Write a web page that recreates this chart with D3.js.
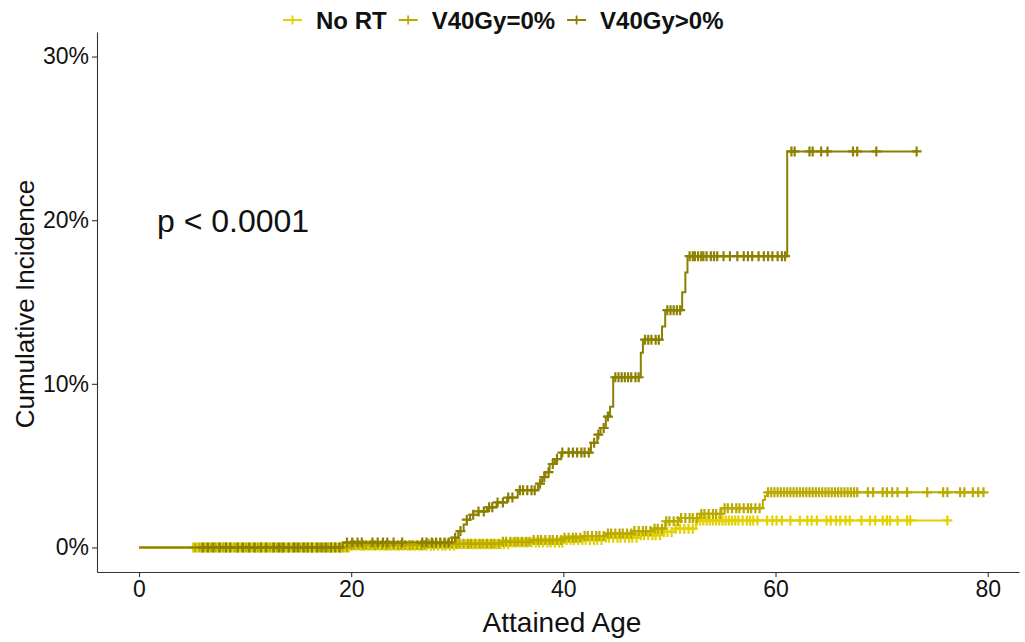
<!DOCTYPE html>
<html>
<head>
<meta charset="utf-8">
<script src="https://cdn.jsdelivr.net/npm/d3@7"></script>
<style>
  body { margin: 0; background: #fff; }
  text { font-family: "Liberation Sans", Arial, sans-serif; }
</style>
</head>
<body>
<script>
// Groups and colours
const groups = ["No RT", "V40Gy=0%", "V40Gy>0%"];
const groupColors = ["#E1D200", "#BBAA00", "#8C8000"];
const xTicks = [0, 20, 40, 60, 80];
const yTicks = [0, 0.1, 0.2, 0.3];
const pLabel = "p < 0.0001";

// Event steps: [attained age, cumulative incidence %]
const noRtSteps = [
  [0, 0], [20.0, 0.1], [30.0, 0.2], [35.0, 0.3], [40.0, 0.45], [44.0, 0.6],
  [47.0, 0.75], [49.3, 0.95], [50.5, 1.15], [52.5, 1.65]
];
const v40ZeroSteps = [
  [0, 0], [19.8, 0.15], [27.0, 0.22], [34.0, 0.35], [37.0, 0.45], [40.0, 0.6],
  [42.0, 0.7], [44.0, 0.85], [46.5, 1.0], [48.5, 1.15], [49.6, 1.6], [51.0, 1.8],
  [52.9, 2.05], [54.9, 2.4], [58.8, 2.9], [59.0, 3.15], [59.2, 3.37]
];
const v40PosSteps = [
  [0, 0], [19.2, 0.3], [29.5, 0.6], [30.1, 1.0], [30.6, 1.4], [30.9, 1.7],
  [31.2, 2.0], [32.0, 2.2], [32.8, 2.45], [33.7, 2.75], [34.7, 3.05], [35.7, 3.5],
  [37.6, 3.9], [38.0, 4.3], [38.3, 4.6], [38.7, 5.1], [39.2, 5.4], [39.8, 5.8],
  [42.6, 6.4], [43.2, 6.9], [43.5, 7.3], [44.0, 8.0], [44.4, 8.6], [44.7, 10.4],
  [47.3, 11.9], [47.5, 12.7], [49.3, 13.5], [49.6, 14.5], [51.2, 15.6],
  [51.5, 16.8], [51.7, 17.8], [61.1, 24.2]
];

// Last follow-up age of each curve
const endAges = [76.2, 79.7, 73.3];

// Censoring ages
const noRtCensor = [
  5.1, 5.5, 5.9, 6.2, 6.6, 7.0, 7.3, 7.7, 8.0, 8.4, 8.8, 9.1, 9.5, 9.9, 10.2,
  10.6, 11.0, 11.3, 11.7, 12.1, 12.4, 12.8, 13.2, 13.5, 13.9, 14.3, 14.6, 15.0,
  15.4, 15.7, 16.1, 16.5, 16.8, 17.2, 17.6, 17.9, 18.3, 18.7, 19.0, 19.4, 19.8,
  20.1, 20.5, 20.9, 21.2, 21.6, 22.0, 22.3, 22.7, 23.1, 23.4, 23.8, 24.2, 24.5,
  24.9, 25.3, 25.6, 26.0, 26.4, 26.7, 27.1, 27.5, 27.8, 28.2, 28.6, 28.9, 29.3,
  29.7, 30.0, 30.4, 30.8, 31.1, 31.5, 31.9, 32.2, 32.6, 33.0, 33.3, 33.7, 34.1,
  34.4, 34.8, 35.2, 35.5, 35.9, 36.3, 36.6, 37.0, 37.4, 37.7, 38.1, 38.5, 38.8,
  39.2, 39.6, 39.9, 40.3, 40.7, 41.0, 41.4, 41.8, 42.1, 42.5, 42.9, 43.2, 43.6,
  44.0, 44.3, 44.7, 45.1, 45.4, 45.8, 46.2, 46.5, 46.9, 47.3, 47.6, 48.0, 48.4,
  48.7, 49.1, 49.5, 49.8, 50.2, 50.6, 51.0, 51.4, 51.8, 52.2, 52.6, 52.9, 53.2,
  53.5, 53.8, 54.1, 54.4, 54.7, 55.0, 55.3, 55.6, 55.9, 56.2, 56.5, 56.9, 57.3,
  57.6, 57.9, 58.3, 59.2, 59.7, 60.1, 60.6, 61.4, 62.3, 63.0, 63.4, 63.9, 64.8,
  65.2, 65.7, 66.1, 66.6, 67.0, 68.1, 68.9, 69.4, 70.1, 70.5, 70.8, 71.5, 72.4,
  72.7, 76.2
];
const v40ZeroCensor = [
  5.3, 5.7, 6.1, 6.4, 6.8, 7.2, 7.5, 7.9, 8.2, 8.6, 9.0, 9.3, 9.7, 10.1, 10.4,
  10.8, 11.2, 11.5, 11.9, 12.3, 12.6, 13.0, 13.4, 13.7, 14.1, 14.5, 14.8, 15.2,
  15.6, 15.9, 16.3, 16.7, 17.0, 17.4, 17.8, 18.1, 18.5, 18.9, 19.2, 19.6, 20.0,
  20.3, 20.7, 21.1, 21.4, 21.8, 22.2, 22.5, 22.9, 23.3, 23.6, 24.0, 24.4, 24.7,
  25.1, 25.5, 25.8, 26.2, 26.6, 26.9, 27.3, 27.7, 28.0, 28.4, 28.8, 29.1, 29.5,
  29.9, 30.2, 30.6, 31.0, 31.3, 31.7, 32.1, 32.4, 32.8, 33.2, 33.5, 33.9, 34.3,
  34.6, 35.0, 35.4, 35.7, 36.1, 36.5, 36.8, 37.2, 37.6, 37.9, 38.3, 38.7, 39.0,
  39.4, 39.8, 40.1, 40.5, 40.9, 41.2, 41.6, 42.0, 42.3, 42.7, 43.1, 43.4, 43.8,
  44.2, 44.5, 44.9, 45.3, 45.6, 46.0, 46.4, 46.7, 47.1, 47.5, 47.8, 48.2, 48.6,
  48.9, 49.3, 49.7, 50.0, 50.4, 50.8, 51.1, 51.5, 51.9, 52.2, 52.6, 53.0, 53.3,
  53.7, 54.1, 54.4, 54.8, 55.2, 55.5, 55.9, 56.3, 56.6, 57.0, 57.4, 57.7, 58.1,
  58.5, 59.3, 59.6, 59.9, 60.2, 60.5, 60.8, 61.1, 61.4, 61.7, 62.0, 62.3, 62.6,
  62.9, 63.2, 63.5, 63.8, 64.1, 64.4, 64.7, 65.0, 65.3, 65.6, 65.9, 66.2, 66.5,
  66.8, 67.1, 67.4, 67.7, 68.7, 69.2, 70.1, 70.5, 71.0, 71.5, 72.4, 74.3, 75.8,
  76.2, 77.4, 77.8, 78.6, 79.1, 79.6
];
const v40PosCensor = [
  6.0, 6.5, 7.0, 7.6, 8.2, 8.6, 9.3, 9.8, 10.4, 10.9, 11.5, 12.0, 12.7, 13.2,
  13.6, 14.1, 14.6, 15.0, 15.5, 15.9, 16.3, 16.8, 17.2, 17.6, 18.1, 18.5, 18.9,
  19.6, 20.1, 20.6, 21.0, 22.0, 22.5, 23.0, 23.4, 24.0, 24.8, 26.7, 27.1, 27.6,
  28.0, 28.4, 28.8, 29.2, 29.8, 30.3, 30.9, 31.5, 32.0, 32.5, 33.0, 33.3, 33.8,
  34.3, 34.8, 35.2, 35.9, 36.2, 36.6, 37.0, 37.3, 37.8, 38.2, 38.6, 39.0, 39.4,
  39.9, 40.5, 40.9, 41.3, 41.7, 42.0, 42.4, 42.9, 43.3, 43.8, 44.2, 44.9, 45.2,
  45.5, 45.8, 46.1, 46.4, 46.8, 47.1, 47.7, 48.0, 48.3, 48.7, 49.0, 49.8, 50.1,
  50.4, 50.7, 51.0, 51.9, 52.2, 52.4, 52.7, 53.0, 53.2, 53.5, 53.9, 54.2, 54.5,
  55.1, 55.7, 56.4, 57.0, 57.4, 57.8, 58.4, 58.9, 59.3, 59.7, 60.2, 60.6, 60.9,
  61.5, 61.8, 63.2, 63.5, 64.3, 64.9, 67.3, 67.7, 69.5, 73.3
];

const stepsList = [noRtSteps, v40ZeroSteps, v40PosSteps];
const censorList = [noRtCensor, v40ZeroCensor, v40PosCensor];

const width = 1025;
const height = 642;

// Scales (ggplot style 5% expansion)
const xScale = d3.scaleLinear().domain([-3.96, 82.95]).range([97, 1019]);
const yScale = d3.scaleLinear().domain([-0.015, 0.315]).range([572, 32]);

const svg = d3
  .select("body")
  .append("svg")
  .attr("width", width)
  .attr("height", height)
  .style("background", "#fff");

// Step value at a given age
function stepValue(steps, t) {
  let v = 0;
  for (const s of steps) {
    if (s[0] <= t) v = s[1];
  }
  return v / 100;
}

const line = d3
  .line()
  .x((d) => xScale(d[0]))
  .y((d) => yScale(d[1] / 100))
  .curve(d3.curveStepAfter);

// Curves, drawn in group order
groups.forEach((g, i) => {
  const steps = stepsList[i];
  const pts = steps.concat([[endAges[i], steps[steps.length - 1][1]]]);
  const gg = svg.append("g");

  gg.append("path")
    .attr("d", line(pts))
    .attr("fill", "none")
    .attr("stroke", groupColors[i])
    .attr("stroke-width", 2);

  // Censor marks
  gg.selectAll("path.cens")
    .data(censorList[i])
    .join("path")
    .attr("class", "cens")
    .attr("d", (t) => {
      const x = xScale(t);
      const y = yScale(stepValue(steps, t));
      return `M${x - 5},${y}H${x + 5}M${x},${y - 5}V${y + 5}`;
    })
    .attr("fill", "none")
    .attr("stroke", groupColors[i])
    .attr("stroke-width", 2.2);
});

// x-axis
const xAxis = d3
  .axisBottom(xScale)
  .tickValues(xTicks)
  .tickSize(5)
  .tickSizeOuter(0)
  .tickPadding(4);
const gx = svg.append("g").attr("transform", `translate(0, 572)`).call(xAxis);
gx.select(".domain").attr("stroke", "#333").attr("stroke-width", 1.1);
gx.selectAll(".tick line").attr("stroke", "#333").attr("stroke-width", 1.1);
gx.selectAll(".tick text")
  .attr("font-size", "23px")
  .attr("font-family", "Liberation Sans, Arial, sans-serif")
  .attr("fill", "#111");

// y-axis
const yAxis = d3
  .axisLeft(yScale)
  .tickValues(yTicks)
  .tickSize(5)
  .tickSizeOuter(0)
  .tickPadding(3)
  .tickFormat(d3.format(".0%"));
const gy = svg.append("g").attr("transform", `translate(97, 0)`).call(yAxis);
gy.select(".domain").attr("stroke", "#333").attr("stroke-width", 1.1);
gy.selectAll(".tick line").attr("stroke", "#333").attr("stroke-width", 1.1);
gy.selectAll(".tick text")
  .attr("font-size", "23px")
  .attr("font-family", "Liberation Sans, Arial, sans-serif")
  .attr("fill", "#111");

// Axis titles
svg
  .append("text")
  .attr("x", 562)
  .attr("y", 632)
  .attr("text-anchor", "middle")
  .attr("font-size", "28px")
  .attr("fill", "#111")
  .text("Attained Age");

svg
  .append("text")
  .attr("transform", `translate(34, 304) rotate(-90)`)
  .attr("text-anchor", "middle")
  .attr("font-size", "26px")
  .attr("fill", "#111")
  .text("Cumulative Incidence");

// p-value
svg
  .append("text")
  .attr("x", 157)
  .attr("y", 232)
  .attr("font-size", "32px")
  .attr("fill", "#111")
  .text(pLabel);

// Legend at top
const legend = svg.append("g");
let lx = 283;
groups.forEach((g, i) => {
  const item = legend.append("g");
  const cx = lx + 9.5;
  item.append("path")
    .attr("d", `M${lx},20H${lx + 19}M${cx},15.5V24.5`)
    .attr("stroke", groupColors[i])
    .attr("stroke-width", 1.8)
    .attr("fill", "none");
  const t = item.append("text")
    .attr("x", lx + 33)
    .attr("y", 28.5)
    .attr("font-size", "24px")
    .attr("font-weight", "bold")
    .attr("fill", "#111")
    .text(g);
  lx = lx + 33 + t.node().getComputedTextLength() + 12;
});
</script>
</body>
</html>
